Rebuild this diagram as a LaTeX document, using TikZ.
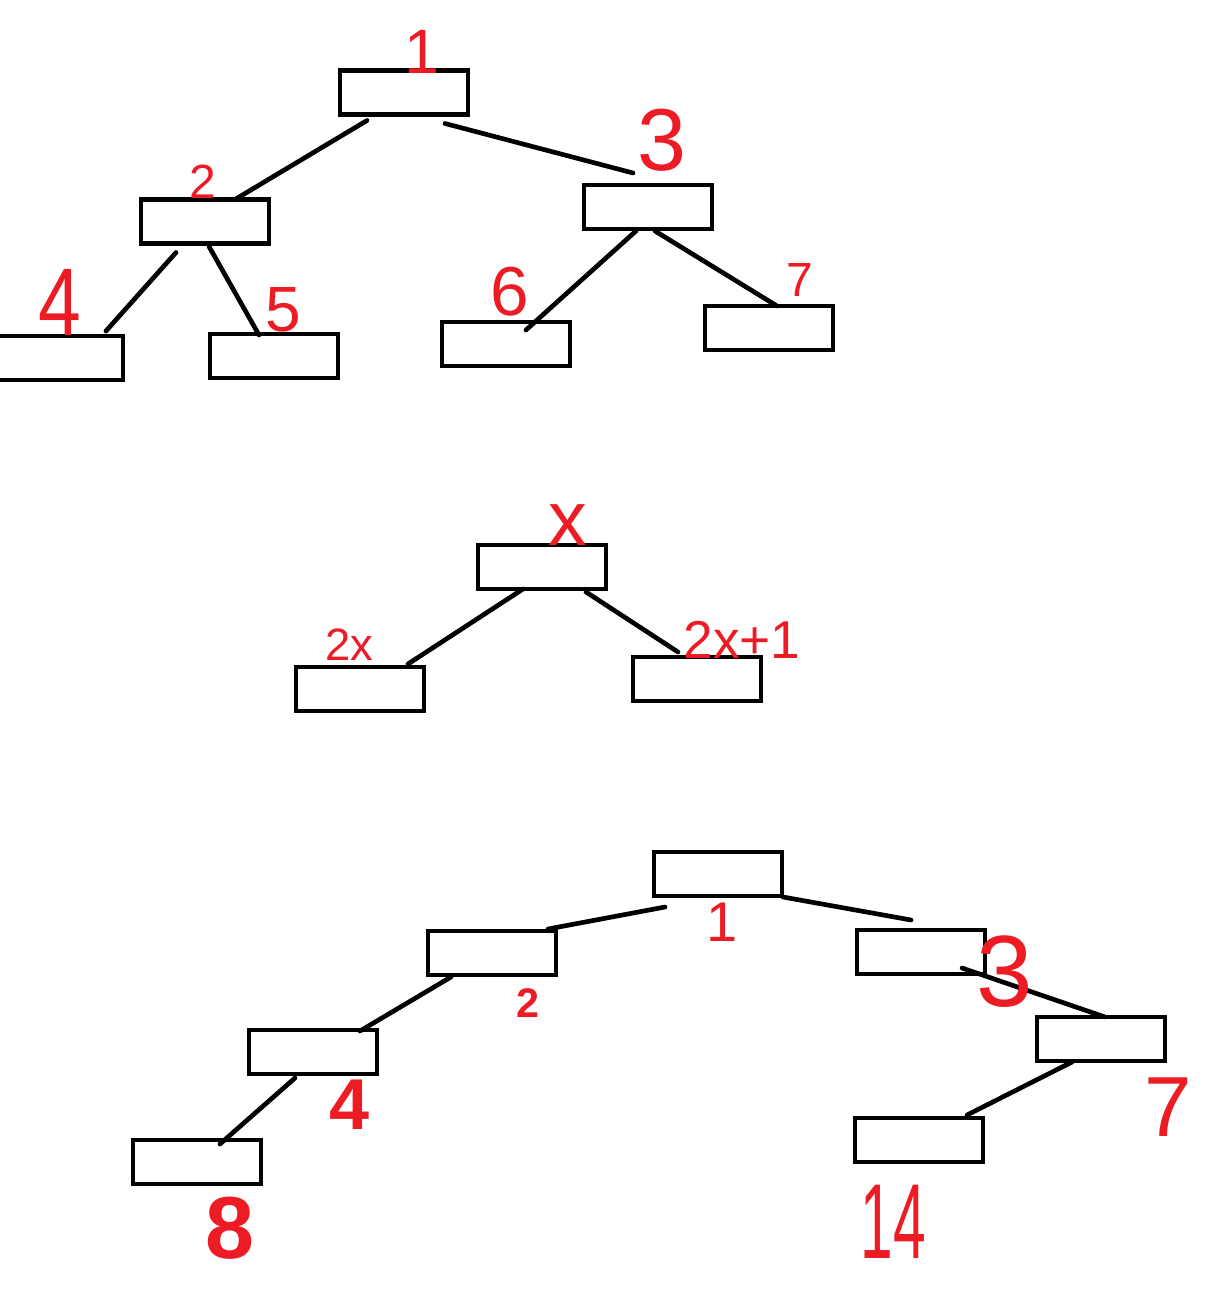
\documentclass[tikz,border=0pt]{standalone}
\usepackage{fontspec}
\setmainfont{Liberation Sans}
\usepackage{xcolor}
\definecolor{handred}{RGB}{237,28,36}
\usetikzlibrary{calc}

\begin{document}
\begin{tikzpicture}[
  x=0.75pt, y=-0.75pt,
  box/.style={rectangle, draw=black, line width=3.5pt, minimum width=96pt,
              minimum height=33pt, inner sep=0pt},
  edge/.style={line width=3.5pt, line cap=round},
  lbl/.style={text=handred, inner sep=0pt, font=\fontsize{#1}{#1}\selectfont},
  blbl/.style={text=handred, inner sep=0pt, font=\fontsize{#1}{#1}\selectfont\bfseries}
]
\useasboundingbox (0,0) rectangle (1207,1305);

% Tree 1: numbering from the root
\node[box] (t1) at (404,92.5) {};
\node[box] (t2) at (205,221.5) {};
\node[box] (t3) at (648,207) {};
\node[box] (t4) at (59,358) {};
\node[box] (t5) at (274,356) {};
\node[box] (t6) at (506,344) {};
\node[box] (t7) at (769,328) {};
\draw[edge] ($(t1)+(-37,28)$) -- ($(t2)+(30,-22)$);
\draw[edge] ($(t1)+(41,31)$) -- ($(t3)+(-15,-34)$);
\draw[edge] ($(t2)+(-29,31)$) -- ($(t4)+(47,-27)$);
\draw[edge] ($(t2)+(4,25)$) -- ($(t5)+(-15,-21)$);
\draw[edge] ($(t3)+(-12,24)$) -- ($(t6)+(20,-14)$);
\draw[edge] ($(t3)+(7,24)$) -- ($(t7)+(8,-22)$);
\node[lbl=47pt] (l1) at (422,52) {1};
\node[lbl=36pt] (l2) at (203,182) {2};
\node[lbl=66pt] (l3) at (662,140) {3};
\node[lbl=72pt, xscale=0.8, transform shape] (l4) at (60,302) {4};
\node[lbl=48pt] (l5) at (283,310) {5};
\node[lbl=52pt] (l6) at (510,292) {6};
\node[lbl=36pt] (l7) at (800,280) {7};

% Tree 2: parent and children
\node[box] (m1) at (542,567) {};
\node[box] (m2) at (360,689) {};
\node[box] (m3) at (697,679) {};
\draw[edge] ($(m1)+(-19,22)$) -- ($(m2)+(48,-25)$);
\draw[edge] ($(m1)+(44,25)$) -- ($(m3)+(-19,-27)$);
\node[lbl=58pt] (lx) at (568,525) {x};
\node[lbl=34pt] (l2x) at (349,645) {2x};
\node[lbl=40pt] (l2x1) at (742,640) {2x+1};

% Tree 3: sparse tree
\node[box] (b1) at (718,874) {};
\node[box] (b2) at (492,953) {};
\node[box] (b3) at (921,952) {};
\node[box] (b4) at (313,1052) {};
\node[box] (b7) at (1101,1039) {};
\node[box] (b8) at (197,1162) {};
\node[box] (b14) at (919,1140) {};
\draw[edge] ($(b1)+(-53,33)$) -- ($(b2)+(56,-24)$);
\draw[edge] ($(b1)+(65,23)$) -- ($(b3)+(-10,-32)$);
\draw[edge] ($(b2)+(-41,24)$) -- ($(b4)+(47,-21)$);
\draw[edge] ($(b3)+(41,16)$) -- ($(b7)+(4,-22)$);
\draw[edge] ($(b4)+(-18,26)$) -- ($(b8)+(23,-18)$);
\draw[edge] ($(b7)+(-29,23)$) -- ($(b14)+(48,-25)$);
\node[lbl=42pt] (k1) at (722,922) {1};
\node[blbl=31pt] (k2) at (528,1003) {2};
\node[lbl=76pt] (k3) at (1005,972) {3};
\node[blbl=54pt] (k4) at (350,1105) {4};
\node[lbl=64pt] (k7) at (1168,1107) {7};
\node[blbl=66pt] (k8) at (230,1228) {8};
\node[lbl=80pt, xscale=0.55, transform shape] (k14) at (893,1222) {14};
\end{tikzpicture}
\end{document}
